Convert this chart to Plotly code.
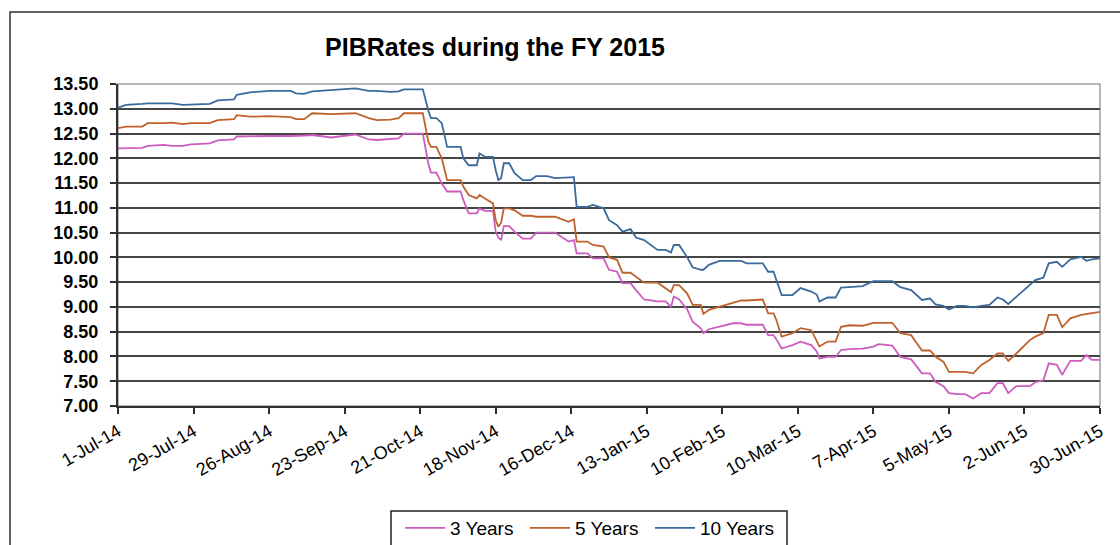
import plotly.graph_objects as go

dates = [
    "2014-07-01", "2014-07-04", "2014-07-10", "2014-07-12", "2014-07-18", "2014-07-21", "2014-07-25", "2014-07-28", "2014-08-04", "2014-08-07",
    "2014-08-13", "2014-08-14", "2014-08-19", "2014-08-26", "2014-09-03", "2014-09-05", "2014-09-08", "2014-09-11", "2014-09-18", "2014-09-27",
    "2014-10-02", "2014-10-05", "2014-10-10", "2014-10-13", "2014-10-15", "2014-10-22", "2014-10-24", "2014-10-25", "2014-10-27", "2014-10-29",
    "2014-10-31", "2014-11-05", "2014-11-06", "2014-11-08", "2014-11-11", "2014-11-12", "2014-11-14", "2014-11-17", "2014-11-18", "2014-11-19",
    "2014-11-20", "2014-11-21", "2014-11-23", "2014-11-25", "2014-11-28", "2014-12-01", "2014-12-03", "2014-12-07", "2014-12-10", "2014-12-15",
    "2014-12-17", "2014-12-18", "2014-12-22", "2014-12-24", "2014-12-28", "2014-12-30", "2015-01-02", "2015-01-04", "2015-01-07", "2015-01-09",
    "2015-01-12", "2015-01-17", "2015-01-20", "2015-01-22", "2015-01-23", "2015-01-25", "2015-01-28", "2015-01-30", "2015-02-02", "2015-02-03",
    "2015-02-05", "2015-02-09", "2015-02-14", "2015-02-17", "2015-02-19", "2015-02-25", "2015-02-27", "2015-03-01", "2015-03-02", "2015-03-04",
    "2015-03-08", "2015-03-11", "2015-03-15", "2015-03-17", "2015-03-18", "2015-03-21", "2015-03-24", "2015-03-26", "2015-03-29", "2015-04-03",
    "2015-04-07", "2015-04-09", "2015-04-14", "2015-04-17", "2015-04-21", "2015-04-25", "2015-04-28", "2015-04-30", "2015-05-03", "2015-05-05",
    "2015-05-08", "2015-05-11", "2015-05-14", "2015-05-17", "2015-05-20", "2015-05-23", "2015-05-25", "2015-05-27", "2015-05-30", "2015-06-04",
    "2015-06-06", "2015-06-09", "2015-06-11", "2015-06-14", "2015-06-16", "2015-06-19", "2015-06-23", "2015-06-25", "2015-06-27", "2015-06-30",
]

rate_10y = [
    13.02, 13.08, 13.10, 13.11, 13.11, 13.11, 13.08, 13.09, 13.10, 13.17,
    13.19, 13.28, 13.33, 13.36, 13.36, 13.31, 13.30, 13.35, 13.38, 13.41,
    13.36, 13.36, 13.34, 13.35, 13.39, 13.39, 12.97, 12.81, 12.81, 12.71,
    12.23, 12.23, 12.00, 11.86, 11.86, 12.10, 12.03, 12.03, 11.76, 11.56,
    11.60, 11.90, 11.90, 11.70, 11.56, 11.56, 11.64, 11.64, 11.60, 11.62,
    11.62, 11.02, 11.02, 11.06, 10.99, 10.75, 10.65, 10.52, 10.57, 10.40,
    10.35, 10.15, 10.15, 10.10, 10.25, 10.25, 10.00, 9.80, 9.75, 9.75,
    9.85, 9.93, 9.93, 9.93, 9.88, 9.88, 9.71, 9.71, 9.55, 9.24,
    9.24, 9.38, 9.31, 9.25, 9.11, 9.19, 9.19, 9.39, 9.40, 9.42,
    9.52, 9.52, 9.52, 9.40, 9.34, 9.14, 9.17, 9.05, 9.02, 8.95,
    9.02, 9.02, 8.99, 9.02, 9.04, 9.19, 9.15, 9.06, 9.21, 9.45,
    9.54, 9.59, 9.88, 9.91, 9.81, 9.96, 10.01, 9.93, 9.96, 9.98,
]

rate_5y = [
    12.61, 12.64, 12.64, 12.71, 12.71, 12.72, 12.69, 12.71, 12.71, 12.77,
    12.79, 12.87, 12.84, 12.85, 12.83, 12.79, 12.79, 12.91, 12.89, 12.91,
    12.81, 12.77, 12.78, 12.81, 12.91, 12.91, 12.34, 12.23, 12.23, 12.00,
    11.56, 11.56, 11.43, 11.26, 11.19, 11.26, 11.19, 11.09, 10.75, 10.62,
    10.70, 10.99, 10.99, 10.95, 10.84, 10.84, 10.82, 10.82, 10.82, 10.72,
    10.77, 10.32, 10.32, 10.25, 10.22, 10.00, 9.95, 9.69, 9.69, 9.61,
    9.49, 9.49, 9.38, 9.30, 9.44, 9.44, 9.27, 9.04, 9.04, 8.86,
    8.94, 9.00, 9.07, 9.13, 9.13, 9.15, 8.87, 8.87, 8.74, 8.40,
    8.47, 8.57, 8.53, 8.33, 8.20, 8.30, 8.30, 8.60, 8.63, 8.62,
    8.68, 8.68, 8.68, 8.47, 8.43, 8.12, 8.12, 8.00, 7.89, 7.69,
    7.69, 7.69, 7.66, 7.83, 7.93, 8.06, 8.06, 7.91, 8.06, 8.33,
    8.40, 8.47, 8.84, 8.84, 8.59, 8.77, 8.84, 8.86, 8.88, 8.90,
]

rate_3y = [
    12.20, 12.20, 12.21, 12.25, 12.27, 12.25, 12.25, 12.28, 12.30, 12.36,
    12.38, 12.44, 12.45, 12.45, 12.45, 12.45, 12.46, 12.47, 12.42, 12.48,
    12.38, 12.37, 12.38, 12.40, 12.50, 12.50, 11.90, 11.71, 11.71, 11.49,
    11.33, 11.33, 11.16, 10.89, 10.89, 10.99, 10.94, 10.94, 10.52, 10.40,
    10.35, 10.63, 10.63, 10.52, 10.38, 10.38, 10.50, 10.50, 10.50, 10.32,
    10.35, 10.08, 10.08, 9.98, 9.98, 9.75, 9.71, 9.48, 9.48, 9.34,
    9.15, 9.11, 9.11, 9.00, 9.21, 9.15, 8.95, 8.70, 8.57, 8.47,
    8.55, 8.60, 8.67, 8.67, 8.64, 8.64, 8.43, 8.43, 8.35, 8.16,
    8.23, 8.30, 8.23, 8.10, 7.96, 7.99, 7.99, 8.13, 8.15, 8.16,
    8.20, 8.25, 8.22, 7.99, 7.94, 7.66, 7.66, 7.49, 7.40, 7.26,
    7.24, 7.24, 7.15, 7.26, 7.26, 7.46, 7.46, 7.26, 7.40, 7.40,
    7.48, 7.52, 7.86, 7.83, 7.63, 7.91, 7.91, 8.03, 7.93, 7.93,
]

tick_dates = [
    "2014-07-01", "2014-07-29", "2014-08-26", "2014-09-23", "2014-10-21", "2014-11-18", "2014-12-16",
    "2015-01-13", "2015-02-10", "2015-03-10", "2015-04-07", "2015-05-05", "2015-06-02", "2015-06-30",
]
tick_labels = [
    "1-Jul-14", "29-Jul-14", "26-Aug-14", "23-Sep-14", "21-Oct-14", "18-Nov-14", "16-Dec-14",
    "13-Jan-15", "10-Feb-15", "10-Mar-15", "7-Apr-15", "5-May-15", "2-Jun-15", "30-Jun-15",
]
y_ticks = [7.0, 7.5, 8.0, 8.5, 9.0, 9.5, 10.0, 10.5, 11.0, 11.5, 12.0, 12.5, 13.0, 13.5]

series = [
    ("3 Years", rate_3y, "#CC5CBE"),
    ("5 Years", rate_5y, "#C0622D"),
    ("10 Years", rate_10y, "#3A6B9C"),
]

FONT = "Arial, Liberation Sans, sans-serif"

fig = go.Figure()
for name, vals, color in series:
    fig.add_trace(go.Scatter(x=dates, y=vals, mode="lines", name=name,
                             line=dict(color=color, width=1.8)))

L, R, T, B = 118, 1100, 84, 406
W, H = 1120, 545
pw, ph = R - L, B - T

def px_x(px):
    return (px - L) / pw

def px_y(py):
    return (B - py) / ph

fig.update_layout(
    width=W, height=H,
    margin=dict(l=L, r=W - R, t=T, b=H - B, autoexpand=False),
    paper_bgcolor="white", plot_bgcolor="white",
    font=dict(family=FONT, color="black"),
    title=dict(text="<b>PIBRates during the FY 2015</b>", x=495 / W, xref="container",
               xanchor="center", y=1 - 47 / H, yref="container", yanchor="middle",
               font=dict(size=25, family=FONT, color="black")),
    showlegend=True,
    legend=dict(orientation="h", x=px_x(400), xanchor="left",
                y=(H - 509) / H, yref="container", yanchor="top",
                borderwidth=0, font=dict(size=19, family=FONT),
                bgcolor="rgba(0,0,0,0)", itemwidth=40, entrywidth=70, entrywidthmode="pixels"),
    xaxis=dict(type="date", range=["2014-07-01", "2015-06-30"], tickvals=tick_dates,
               ticktext=tick_labels, tickangle=-30, tickfont=dict(size=18, family=FONT),
               showgrid=False, showline=True, linecolor="#303030", linewidth=2,
               ticks="outside", ticklen=6, tickcolor="#303030", tickwidth=1.5,
               zeroline=False, automargin=False),
    yaxis=dict(range=[7, 13.5], tickvals=y_ticks, tickformat=".2f",
               tickfont=dict(size=18, family=FONT, weight="bold"), showgrid=True,
               gridcolor="#454545", gridwidth=1.7, showline=True, linecolor="#303030",
               linewidth=2, ticks="outside", ticklen=6, tickcolor="#303030", tickwidth=1.5,
               ticklabelstandoff=8, zeroline=False, automargin=False),
    shapes=[
        dict(type="rect", xref="paper", yref="paper", x0=0, x1=1, y0=0, y1=1,
             line=dict(color="#a0a0a0", width=1.5), layer="below"),
        dict(type="rect", xref="paper", yref="paper", x0=px_x(10), x1=px_x(1140),
             y0=px_y(570), y1=px_y(12), line=dict(color="#333333", width=1.5), layer="below"),
        dict(type="rect", xref="paper", yref="paper", x0=px_x(391), x1=px_x(787),
             y0=px_y(560), y1=px_y(511), line=dict(color="#222222", width=1.5),
             fillcolor="white", layer="below"),
    ],
)

fig.write_html("out.html", config={"displayModeBar": False},
               post_script="document.body.style.margin='0';document.body.style.overflow='hidden';")
